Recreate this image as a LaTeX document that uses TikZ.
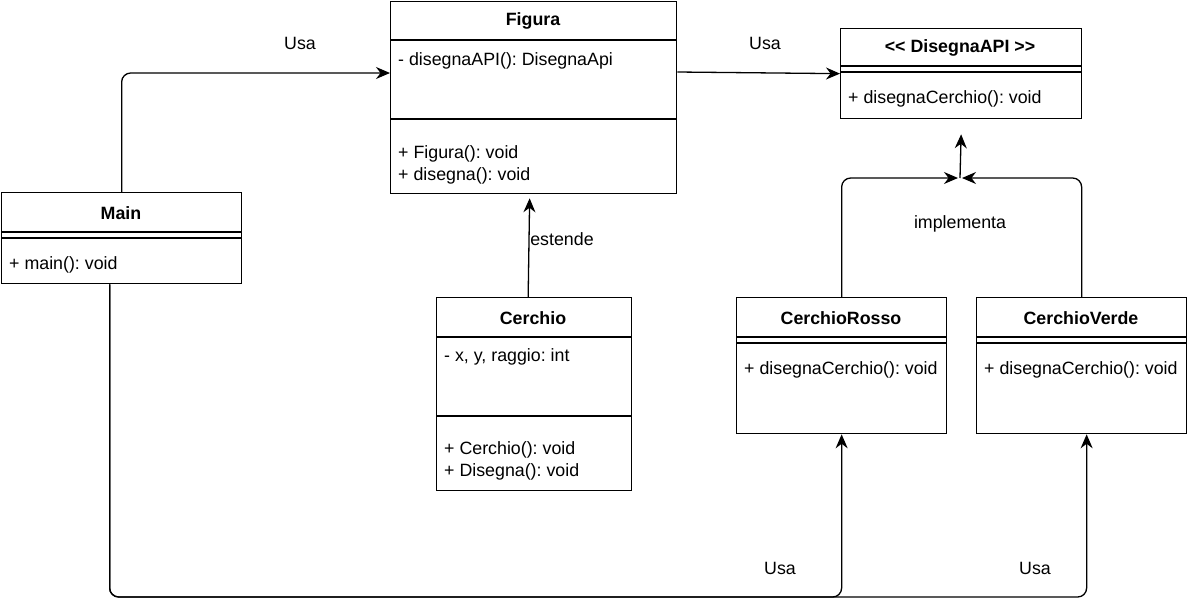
\documentclass[tikz,border=0pt]{standalone}
\usepackage{fontspec}
\setmainfont{Liberation Sans}
\usetikzlibrary{positioning, arrows.meta, calc}
\frenchspacing

\begin{document}
\begin{tikzpicture}[x=1pt,y=-1pt,>={Stealth[length=14pt,width=12pt]},
  font=\fontsize{17.8}{22}\selectfont,
  classbox/.style={draw,line width=1.3pt,anchor=north west,inner sep=0pt},
  sep/.style={line width=1.3pt},
  member/.style={anchor=west,inner sep=0pt,align=left},
  title/.style={font=\fontsize{17.8}{22}\selectfont\bfseries,inner sep=0pt},
  uses/.style={->,line width=1.3pt,rounded corners=9pt},
  lbl/.style={inner sep=0pt}]
\useasboundingbox[fill=white] (0,0) rectangle (1187,611);

% Figura
\node[classbox,minimum width=286pt,minimum height=192pt] (figura) at (390,1) {};
\draw[sep] ([yshift=-39pt]figura.north west) -- ([yshift=-39pt]figura.north east);
\draw[sep] ([yshift=-118pt]figura.north west) -- ([yshift=-118pt]figura.north east);
\node[title] (figura-t) at (533,21) {Figura};
\node[member] (figura-a) at (398,61) {- disegnaAPI(): DisegnaApi};
\node[member] (figura-m) at (398,165) {+ Figura(): void\\+ disegna(): void};

% DisegnaAPI
\node[classbox,minimum width=241pt,minimum height=90pt] (api) at (840,28) {};
\draw[sep] ([yshift=-38pt]api.north west) -- ([yshift=-38pt]api.north east);
\draw[sep] ([yshift=-44pt]api.north west) -- ([yshift=-44pt]api.north east);
\node[title] (api-t) at (960,48) {<{}< DisegnaAPI >{}>};
\node[member] (api-m) at (848,99) {+ disegnaCerchio(): void};

% Main
\node[classbox,minimum width=240pt,minimum height=91pt] (main) at (1,192) {};
\draw[sep] ([yshift=-40pt]main.north west) -- ([yshift=-40pt]main.north east);
\draw[sep] ([yshift=-46pt]main.north west) -- ([yshift=-46pt]main.north east);
\node[title] (main-t) at (121,213) {Main};
\node[member] (main-m) at (9,265) {+ main(): void};

% Cerchio
\node[classbox,minimum width=195pt,minimum height=193pt] (cerchio) at (436,297) {};
\draw[sep] ([yshift=-40pt]cerchio.north west) -- ([yshift=-40pt]cerchio.north east);
\draw[sep] ([yshift=-119pt]cerchio.north west) -- ([yshift=-119pt]cerchio.north east);
\node[title] (cerchio-t) at (533,318) {Cerchio};
\node[member] (cerchio-a) at (444,357) {- x, y, raggio: int};
\node[member] (cerchio-m) at (444,461) {+ Cerchio(): void\\+ Disegna(): void};

% CerchioRosso
\node[classbox,minimum width=210pt,minimum height=136pt] (rosso) at (736,297) {};
\draw[sep] ([yshift=-40pt]rosso.north west) -- ([yshift=-40pt]rosso.north east);
\draw[sep] ([yshift=-46pt]rosso.north west) -- ([yshift=-46pt]rosso.north east);
\node[title] (rosso-t) at (841,318) {CerchioRosso};
\node[member] (rosso-m) at (744,370) {+ disegnaCerchio(): void};

% CerchioVerde
\node[classbox,minimum width=210pt,minimum height=136pt] (verde) at (976,297) {};
\draw[sep] ([yshift=-40pt]verde.north west) -- ([yshift=-40pt]verde.north east);
\draw[sep] ([yshift=-46pt]verde.north west) -- ([yshift=-46pt]verde.north east);
\node[title] (verde-t) at (1081,318) {CerchioVerde};
\node[member] (verde-m) at (984,370) {+ disegnaCerchio(): void};

% connectors
\coordinate (imp) at (960,178);
\coordinate (bus) at (0,597);
\draw[uses] (main.north) |- ([yshift=-72pt]figura.north west);
\draw[uses] ([yshift=-71pt]figura.north east) -- (api.west);
\draw[uses] ([xshift=-6pt]cerchio.north) -- ([xshift=-4pt,yshift=-4pt]figura.south);
\draw[uses] (rosso.north) |- ([xshift=-2pt]imp);
\draw[uses] (verde.north) |- ([xshift=2pt]imp);
\draw[uses] (imp) -- ([yshift=-15pt]api.south);
\draw[uses] ([xshift=-12pt]main.south) |- (bus -| rosso.south) -- (rosso.south);
\draw[uses] ([xshift=-12pt]main.south) |- ([xshift=5pt]verde.south |- bus) -- ([xshift=5pt]verde.south);

% labels
\node[lbl] (l-usa1) at (300,43) {Usa};
\node[lbl] (l-usa2) at (765,43) {Usa};
\node[lbl] (l-est) at (562,239) {estende};
\node[lbl] (l-imp) at (960,224) {implementa};
\node[lbl] (l-usa3) at (780,568) {Usa};
\node[lbl] (l-usa4) at (1035,568) {Usa};
\end{tikzpicture}
\end{document}
